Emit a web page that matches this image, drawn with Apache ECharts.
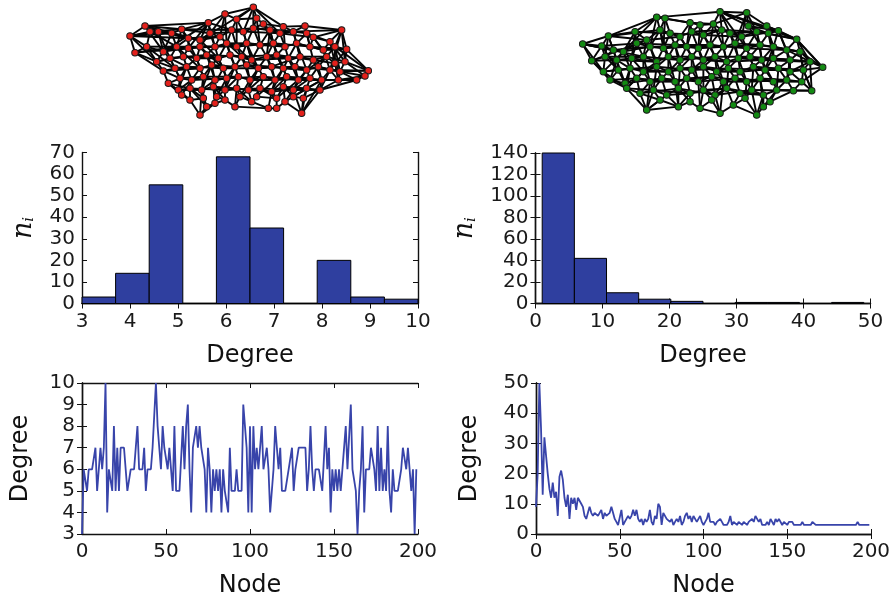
<!DOCTYPE html>
<html><head><meta charset="utf-8">
<script src="https://cdn.jsdelivr.net/npm/echarts@6/dist/echarts.min.js"></script>
<style>html,body{margin:0;padding:0;background:#fff}#c{width:894px;height:599px}</style>
</head><body><div id="c"></div><script>
// ---------------- data ----------------
const histLeftEdges = [3, 3.7, 4.4, 5.1, 5.8, 6.5, 7.2, 7.9, 8.6, 9.3, 10];
const histLeftCounts = [3, 14, 55, 0, 68, 35, 0, 20, 3, 2];
const histRightEdges = [1, 5.8, 10.6, 15.4, 20.2, 25, 29.8, 34.6, 39.4, 44.2, 49];
const histRightCounts = [140, 42, 10, 4, 2, 0, 1, 1, 0, 1];

const degreeLeft = [
  3,6,6,5,6,6,6,6,7,5, 5,7,6,7,10,4,6,6,5,8, 5,7,5,7,7,7,6,5,5,6, 6,6,6,8,6,6,6,7,5,6,
  6,6,7,7,10,8,7,6,8,7, 7,6,7,6,5,8,5,5,5,5, 8,6,8,9,6,4,7,7,8,7, 8,7,7,6,4,7,6,4,6,5,
  6,5,6,4,6,5,5,4,7,5, 5,5,6,5,5,5,9,8,7,4, 8,4,8,6,7,6,6,8,6,6, 7,6,4,4,6,8,7,6,7,5,
  5,5,5,6,6,7,5,6,6,7, 7,7,7,7,5,6,8,6,5,6, 6,6,6,5,5,8,6,7,4,6, 5,6,5,6,5,6,6,8,6,6,
  9,6,6,5,3,5,6,8,4,6, 6,6,7,7,6,5,8,5,7,5, 6,5,8,5,4,6,5,5,5,5, 6,7,7,6,7,7,5,6,3,6
];
const degreeRight = [
  9,20,50,35,13,32,32,20,15,12, 17,12,14,6,19,21,18,12,9,13, 5,12,10,12,8,12,12,10,9,6, 5,7,9,7,6,7,7,6,6,8,
  5,7,6,6,7,9,7,5,4,3, 3,8,3,4,5,6,5,6,8,6, 8,5,4,5,3,5,4,5,8,4, 3,6,5,10,9,3,7,6,5,5,
  4,5,3,4,5,4,6,3,4,6, 7,5,6,4,6,5,4,4,6,4, 3,4,5,7,4,4,4,3,4,4, 5,4,3,3,3,4,6,3,4,4,
  3,4,4,3,4,4,3,4,4,5, 4,6,5,4,5,3,3,3,4,3, 5,4,3,5,4,5,5,3,4,4, 3,4,4,4,3,3,3,3,3,4,
  3,3,3,3,3,4,4,3,3,3, 3,3,3,3,3,3,3,3,3,3, 3,3,3,3,3,3,3,3,3,3, 3,3,4,3,3,3,3,3,3,3
];

// network node rows (A..H), positions
const redRows = [
  [[135,78],[325,68],[375,42],[410,58],[460,22],[470,55],[490,72],[550,80],[615,78]],
  [[90,108],[150,95],[175,95],[215,100],[245,88],[265,115],[300,120],[330,100],[360,110],[395,90],[430,95],[460,85],[510,90],[540,100],[580,95],[620,100],[640,112],[690,125],[725,90]],
  [[105,158],[140,140],[190,155],[230,140],[265,145],[300,140],[345,140],[380,130],[410,140],[440,130],[480,135],[520,130],[555,140],[590,130],[630,140],[670,150],[705,140],[740,148]],
  [[170,185],[210,175],[250,170],[290,175],[320,165],[355,175],[390,165],[425,170],[455,180],[500,170],[530,165],[565,175],[600,170],[640,180],[680,170],[705,190],[735,185]],
  [[190,213],[225,205],[260,200],[300,205],[335,195],[370,205],[405,200],[440,195],[475,205],[515,200],[550,205],[585,200],[620,210],[655,200],[690,210],[720,215],[805,212]],
  [[240,235],[275,240],[310,230],[345,240],[380,235],[415,230],[450,240],[490,230],[525,240],[560,230],[595,240],[630,235],[665,240],[715,240],[770,240],[795,228]],
  [[205,250],[235,270],[270,265],[305,270],[340,260],[375,270],[410,265],[445,270],[480,265],[515,275],[550,260],[580,270],[620,265],[660,270]],
  [[245,285],[270,300],[300,345],[310,295],[320,320],[345,310],[350,290],[375,300],[405,320],[420,290],[455,305],[470,290],[505,325],[530,295],[530,325],[555,305],[580,290],[605,340],[610,295]]
];
const redEdges = `A1-A2 A2-A3 A3-A4 A4-A5 A5-A6 A6-A7 A7-A8 A2-A4 A3-A5 A0-A1
A0-B0 A0-B1 A0-B2 A0-B4 A1-B4 A1-B7 A1-B6 A2-B7 A2-B8 A3-B9 A3-B10 A4-B11 A4-B10 A5-B11 A6-B12 A6-B11 A7-B13 A7-B14 A8-B14 A8-B15 A8-B18 A1-B9
B0-B1 B1-B2 B2-B3 B3-B4 B4-B5 B5-B6 B6-B7 B7-B8 B8-B9 B9-B10 B10-B11 B11-B12 B12-B13 B13-B14 B14-B15 B15-B16 B16-B17 B17-B18 B0-B3 B3-B5 B6-B8 B9-B11 B12-B14 B15-B17 B2-B5 B4-B7 B10-B13 B14-B18
B0-C0 B0-C1 B1-C1 B2-C2 B3-C2 B3-C3 B4-C3 B5-C4 B5-C3 B6-C5 B7-C6 B8-C6 B8-C7 B9-C7 B9-C8 B10-C9 B11-C9 B11-C10 B12-C11 B13-C12 B13-C11 B14-C13 B15-C14 B16-C14 B16-C15 B17-C15 B17-C16 B18-C16 B18-C17 B7-C5 B12-C10 B15-C13
C0-C1 C1-C2 C2-C3 C3-C4 C4-C5 C5-C6 C6-C7 C7-C8 C8-C9 C9-C10 C10-C11 C11-C12 C12-C13 C13-C14 C14-C15 C15-C16 C16-C17 C1-C3 C4-C6 C7-C9 C10-C12 C13-C15 C2-C5 C8-C11 C14-C17
C0-D0 C1-D0 C2-D1 C2-D0 C3-D1 C3-D2 C4-D2 C4-D3 C5-D3 C5-D4 C6-D5 C7-D6 C7-D5 C8-D7 C9-D7 C9-D8 C10-D9 C11-D9 C11-D10 C12-D11 C13-D12 C13-D11 C14-D13 C15-D14 C16-D15 C16-D14 C17-D16 C17-D15 C6-D4 C10-D8 C12-D10
D0-D1 D1-D2 D2-D3 D3-D4 D4-D5 D5-D6 D6-D7 D7-D8 D8-D9 D9-D10 D10-D11 D11-D12 D12-D13 D13-D14 D14-D15 D15-D16 D0-D2 D3-D5 D6-D8 D9-D11 D12-D14 D13-D15
D0-E0 D0-E1 D1-E1 D1-E2 D2-E2 D3-E3 D3-E2 D4-E4 D5-E5 D5-E4 D6-E6 D7-E7 D7-E6 D8-E8 D9-E8 D9-E9 D10-E10 D11-E10 D11-E11 D12-E11 D13-E12 D14-E13 D14-E12 D15-E14 D15-E15 D16-E15 D16-E16 D8-E7 D12-E9
E0-E1 E1-E2 E2-E3 E3-E4 E4-E5 E5-E6 E6-E7 E7-E8 E8-E9 E9-E10 E10-E11 E11-E12 E12-E13 E13-E14 E14-E15 E15-E16 E1-E3 E4-E6 E7-E9 E10-E12 E13-E15
E0-F0 E1-F0 E2-F1 E2-F0 E3-F2 E4-F2 E4-F3 E5-F4 E6-F4 E6-F5 E7-F6 E8-F6 E8-F7 E9-F8 E10-F9 E10-F8 E11-F10 E12-F10 E12-F11 E13-F11 E13-F12 E14-F12 E15-F13 E15-F14 E16-F14 E16-F15 E14-F13 E3-F1
F0-F1 F1-F2 F2-F3 F3-F4 F4-F5 F5-F6 F6-F7 F7-F8 F8-F9 F9-F10 F10-F11 F11-F12 F12-F13 F13-F14 F14-F15 F0-F2 F3-F5 F6-F8 F9-F11 F12-F14
F0-G0 F0-G1 F1-G2 F1-G1 F2-G3 F3-G4 F3-G3 F4-G5 F5-G6 F5-G5 F6-G7 F7-G8 F7-G7 F8-G9 F9-G10 F9-G9 F10-G11 F11-G12 F11-G11 F12-G13 F13-G13 F14-G13 F12-G12
G0-G1 G1-G2 G2-G3 G3-G4 G4-G5 G5-G6 G6-G7 G7-G8 G8-G9 G9-G10 G10-G11 G11-G12 G12-G13 G1-G3 G4-G6 G7-G9 G10-G12
G0-H0 G1-H0 G1-H1 G2-H1 G2-H3 G3-H3 G3-H4 G4-H5 G4-H6 G5-H7 G5-H6 G6-H9 G6-H8 G7-H10 G7-H9 G8-H11 G8-H10 G9-H13 G9-H12 G10-H13 G10-H15 G11-H16 G11-H15 G12-H18 G12-H16 G13-H18 G13-H17
H0-H1 H1-H3 H1-H2 H2-H4 H3-H4 H4-H5 H5-H7 H6-H7 H7-H8 H8-H9 H9-H10 H10-H11 H10-H12 H11-H13 H12-H14 H13-H14 H14-H15 H15-H16 H16-H18 H17-H18 H15-H17 H2-H5 H8-H12
A0-C2 B0-D0 C0-E0 A4-A7 B4-B9 D4-F3 E16-F15 F15-E15 C17-E16 B18-D16 A1-C4 E5-G4 D10-F9 B12-D9 C8-E8 H17-F12 E0-G0 B1-C3
B1-B4 B5-B8 B7-B10 B11-B14 B13-B16 B16-B18 B0-B2
C0-C3 C3-C6 C5-C8 C9-C12 C11-C14 C15-C17 C6-C9
D1-D4 D2-D5 D4-D7 D7-D10 D8-D11 D10-D13 D14-D16
E0-E3 E2-E5 E5-E8 E8-E11 E9-E12 E11-E14 E14-E16
F1-F4 F2-F5 F4-F7 F7-F10 F8-F11 F10-F13 F13-F15
G0-G2 G2-G5 G5-G8 G8-G11 G9-G12 G11-G13
A1-C6 A2-C7 A3-C8 A5-C10 A6-C11 A7-C12 A8-C14 B2-D1 B4-D3 B6-D5 B8-D7 B10-D8 B12-D10 B14-D12 B16-D14 B17-D15
C1-E1 C3-E3 C5-E5 C7-E6 C9-E8 C11-E10 C13-E12 C15-E14 C16-E15 D1-F0 D3-F2 D5-F4 D7-F6 D9-F8 D11-F10 D13-F12 D15-F13
E2-G1 E4-G3 E6-G5 E8-G7 E10-G9 E12-G11 E14-G13 F2-H3 F4-H6 F6-H9 F8-H11 F10-H13 F12-H16 G0-H1 G2-H4 G4-H7 G6-H10 G8-H13 G10-H16 G12-H17
B0-B5 A0-B6 C0-C4 D16-B17 E16-C16 F15-D16 H0-F1 H2-G3 H17-G11 A4-B6 A4-B13 C2-A1 B18-E14`;

const greenRows = [
  [[290,52],[315,55],[390,68],[420,75],[460,72],[480,35],[560,38],[565,78],[620,78]],
  [[145,108],[225,95],[260,120],[300,90],[330,100],[360,110],[395,95],[430,105],[485,90],[510,100],[545,110],[590,95],[625,100],[655,92],[710,118]],
  [[68,132],[125,138],[160,150],[190,155],[230,130],[270,140],[310,145],[345,135],[380,140],[415,145],[450,135],[490,140],[525,130],[560,145],[600,135],[640,140],[680,150],[720,155]],
  [[95,182],[135,170],[170,180],[215,175],[250,170],[290,185],[325,170],[360,180],[395,170],[430,180],[465,170],[500,185],[535,175],[570,170],[605,180],[640,175],[690,180],[750,185],[788,202]],
  [[130,215],[175,210],[210,205],[250,215],[290,200],[325,215],[360,205],[395,210],[430,200],[470,215],[505,205],[540,215],[580,200],[615,210],[655,205],[690,215],[730,210]],
  [[150,240],[195,250],[230,235],[270,245],[305,235],[345,245],[380,235],[415,245],[455,230],[490,245],[525,235],[560,245],[600,235],[640,245],[680,240],[725,245]],
  [[200,265],[240,280],[280,270],[320,285],[355,265],[390,280],[430,270],[465,285],[500,265],[540,280],[575,270],[610,285],[650,270],[700,272],[755,272]],
  [[260,330],[300,300],[355,320],[390,305],[420,325],[455,300],[480,340],[520,315],[555,295],[590,345],[610,320],[630,305]]
];
const greenEdges = `A0-A1 A1-A2 A2-A3 A3-A4 A4-A5 A5-A6 A6-A7 A5-A7 A4-A6 A0-A2 A2-A4
A0-B1 A0-B3 A1-B3 A1-B4 A2-B5 A2-B6 A3-B6 A3-B7 A4-B7 A4-B8 A5-B8 A5-B9 A6-B10 A6-B11 A7-B11 A7-B12 A8-B12 A8-B13 A8-B14 A0-B0 A5-B14 A7-B13
B0-B1 B1-B2 B2-B3 B3-B4 B4-B5 B5-B6 B6-B7 B7-B8 B8-B9 B9-B10 B10-B11 B11-B12 B12-B13 B13-B14 B0-B2 B3-B5 B6-B8 B9-B11 B12-B14 B1-B4 B7-B10
B0-C0 B0-C1 B0-C2 B1-C3 B1-C4 B2-C4 B2-C5 B3-C5 B3-C6 B4-C6 B4-C7 B5-C7 B5-C8 B6-C8 B6-C9 B7-C9 B7-C10 B8-C10 B8-C11 B9-C11 B9-C12 B10-C12 B10-C13 B11-C13 B11-C14 B12-C14 B12-C15 B13-C15 B13-C16 B14-C16 B14-C17
C0-C1 C1-C2 C2-C3 C3-C4 C4-C5 C5-C6 C6-C7 C7-C8 C8-C9 C9-C10 C10-C11 C11-C12 C12-C13 C13-C14 C14-C15 C15-C16 C16-C17 C0-C2 C3-C5 C6-C8 C9-C11 C12-C14 C15-C17 C1-C4 C7-C10 C13-C16
C0-D0 C1-D0 C1-D1 C2-D1 C2-D2 C3-D2 C3-D3 C4-D3 C4-D4 C5-D4 C5-D5 C6-D5 C6-D6 C7-D6 C7-D7 C8-D7 C8-D8 C9-D8 C9-D9 C10-D9 C10-D10 C11-D10 C11-D11 C12-D11 C12-D12 C13-D12 C13-D13 C14-D13 C14-D14 C15-D14 C15-D15 C16-D15 C16-D16 C17-D16 C17-D17 C17-D18 C16-D17
D0-D1 D1-D2 D2-D3 D3-D4 D4-D5 D5-D6 D6-D7 D7-D8 D8-D9 D9-D10 D10-D11 D11-D12 D12-D13 D13-D14 D14-D15 D15-D16 D16-D17 D17-D18 D0-D2 D3-D5 D6-D8 D9-D11 D12-D14 D15-D17
D0-E0 D1-E0 D1-E1 D2-E1 D2-E2 D3-E2 D3-E3 D4-E3 D5-E4 D5-E3 D6-E5 D6-E4 D7-E6 D7-E5 D8-E7 D8-E6 D9-E8 D9-E7 D10-E9 D10-E8 D11-E10 D11-E9 D12-E11 D12-E10 D13-E12 D14-E13 D14-E12 D15-E14 D15-E13 D16-E15 D16-E14 D17-E16 D18-E16 D17-E15
E0-E1 E1-E2 E2-E3 E3-E4 E4-E5 E5-E6 E6-E7 E7-E8 E8-E9 E9-E10 E10-E11 E11-E12 E12-E13 E13-E14 E14-E15 E15-E16 E0-E2 E3-E5 E6-E8 E9-E11 E12-E14 E14-E16
E0-F0 E1-F0 E1-F1 E2-F2 E2-F1 E3-F3 E3-F2 E4-F4 E5-F5 E5-F4 E6-F6 E7-F7 E7-F6 E8-F8 E9-F9 E9-F8 E10-F10 E11-F11 E11-F10 E12-F12 E13-F13 E13-F12 E14-F14 E15-F14 E16-F15 E15-F15
F0-F1 F1-F2 F2-F3 F3-F4 F4-F5 F5-F6 F6-F7 F7-F8 F8-F9 F9-F10 F10-F11 F11-F12 F12-F13 F13-F14 F14-F15 F0-F2 F3-F5 F6-F8 F9-F11 F12-F14
F0-G0 F1-G0 F2-G1 F2-G0 F3-G2 F3-G1 F4-G3 F4-G2 F5-G4 F6-G4 F6-G5 F7-G6 F8-G6 F8-G7 F9-G8 F9-G7 F10-G8 F10-G9 F11-G10 F12-G11 F12-G10 F13-G12 F14-G13 F14-G12 F15-G14 F15-G13
G0-G1 G1-G2 G2-G3 G3-G4 G4-G5 G5-G6 G6-G7 G7-G8 G8-G9 G9-G10 G10-G11 G11-G12 G12-G13 G13-G14 G0-G2 G3-G5 G6-G8 G9-G11 G12-G14
G1-H0 G2-H0 G2-H1 G3-H1 G3-H2 G4-H2 G5-H3 G5-H2 G6-H4 G6-H5 G7-H5 G7-H6 G8-H7 G9-H7 G9-H8 G10-H8 G10-H9 G11-H10 G11-H11 G12-H11 G12-H10 G1-H1
H0-H1 H1-H2 H2-H3 H3-H4 H4-H5 H5-H6 H6-H7 H7-H8 H8-H9 H9-H10 H10-H11 H0-H2 H4-H6 H7-H9
A5-C13 B0-D1 C0-E0 A0-C3 D18-F15 B14-D17 C17-E16 A4-C11 E0-G0 D0-F0 G14-E16 B13-D16
B0-B3 B2-B5 B4-B7 B8-B11 B10-B13 B11-B14
C0-C3 C2-C5 C4-C7 C5-C8 C8-C11 C10-C13 C11-C14 C14-C17
D1-D4 D2-D5 D4-D7 D7-D10 D8-D11 D10-D13 D11-D14 D13-D16 D14-D17
E1-E4 E2-E5 E4-E7 E5-E8 E7-E10 E8-E11 E10-E13 E11-E14 E13-E16
F1-F4 F2-F5 F4-F7 F5-F8 F7-F10 F8-F11 F10-F13 F11-F14 F13-F15
G1-G4 G2-G5 G4-G7 G5-G8 G7-G10 G8-G11 G10-G13
A0-C5 A1-C6 A2-C8 A3-C9 A4-C10 A6-C12 A7-C14 A8-C15 B0-D2 B2-D4 B3-D6 B5-D8 B7-D10 B9-D12 B11-D14 B12-D15 B14-D18
C1-E1 C3-E2 C5-E4 C7-E6 C9-E8 C11-E10 C13-E12 C15-E13 C16-E15 D2-F1 D4-F3 D6-F5 D8-F7 D10-F9 D12-F11 D14-F13 D16-F14
E2-G0 E4-G2 E6-G4 E8-G6 E10-G8 E12-G10 E14-G12 E16-G14 F3-H0 F5-H2 F7-H4 F9-H6 F11-H8 F12-H10 G0-H0 G4-H3 G8-H5 G11-H9 G13-H11
A0-A5 B1-D3 C0-D4 D0-B2 E0-C3 F0-D2 G0-E3 H0-G3 D18-B14 E16-C17 G14-D17 A5-B13 A6-A8`;

// ---------------- styling / build ----------------
const FONT = 'DejaVu Sans';
const BAR = '#2f3f9f';
const LINE = '#3844aa';

function buildGraph(rows, edgeStr) {
  const letters = 'ABCDEFGH';
  const nodes = [];
  rows.forEach((row, r) => row.forEach((p, i) => nodes.push({ name: letters[r] + i, x: p[0], y: p[1] })));
  const links = edgeStr.trim().split(/\s+/).map(e => { const [a, b] = e.split('-'); return { source: a, target: b }; });
  return { nodes, links };
}
const redG = buildGraph(redRows, redEdges);
const greenG = buildGraph(greenRows, greenEdges);

const grids = [
  { left: 82, top: 152.5, width: 336, height: 151 },
  { left: 535.5, top: 153, width: 335, height: 150.5 },
  { left: 82, top: 383, width: 336, height: 151 },
  { left: 536, top: 383, width: 335, height: 151.5 }
];
const axisSpec = [
  { x: [3, 10, 1], y: [0, 70, 10], xName: 'Degree', yName: '{n|n}{i|i}', yGap: 45, xGap: 40 },
  { x: [0, 50, 10], y: [0, 140, 20], xName: 'Degree', yName: '{n|n}{i|i}', yGap: 57, xGap: 40 },
  { x: [0, 200, 50], y: [3, 10, 1], xName: 'Node', yName: 'Degree', yGap: 49, xGap: 40 },
  { x: [0, 200, 50], y: [0, 50, 10], xName: 'Node', yName: 'Degree', yGap: 54, xGap: 40 }
];
const lineStyleAxis = { color: '#111', width: 1.4 };
const tickStyle = { inside: true, length: 5, lineStyle: { color: '#111', width: 1 } };
const labelStyle = { fontSize: 20, color: '#1a1a1a', fontFamily: FONT, margin: 8 };
const nameRich = {
  n: { fontFamily: 'DejaVu Serif', fontStyle: 'italic', fontSize: 27, color: '#111' },
  i: { fontFamily: 'DejaVu Serif', fontStyle: 'italic', fontSize: 15, color: '#111', verticalAlign: 'bottom', padding: [10, 0, 0, 0] }
};

const xAxis = [], yAxis = [];
axisSpec.forEach((s, g) => {
  xAxis.push({ gridIndex: g, type: 'value', position: 'bottom', min: s.x[0], max: s.x[1], interval: s.x[2],
    axisLine: { show: true, lineStyle: lineStyleAxis }, axisTick: tickStyle, axisLabel: labelStyle, splitLine: { show: false },
    name: s.xName, nameLocation: 'middle', nameGap: s.xGap, nameTextStyle: { fontSize: 24, fontFamily: FONT, color: '#111' } });
  xAxis.push({ gridIndex: g, type: 'value', position: 'top', min: s.x[0], max: s.x[1], interval: s.x[2],
    axisLine: { show: true, lineStyle: lineStyleAxis }, axisTick: tickStyle, axisLabel: { show: false }, splitLine: { show: false } });
  const yName = s.yName.startsWith('{')
    ? { name: s.yName, nameGap: s.yGap, nameTextStyle: { rich: nameRich } }
    : { name: s.yName, nameGap: s.yGap, nameTextStyle: { fontSize: 24, fontFamily: FONT, color: '#111' } };
  yAxis.push(Object.assign({ gridIndex: g, type: 'value', position: 'left', min: s.y[0], max: s.y[1], interval: s.y[2],
    axisLine: { show: true, lineStyle: lineStyleAxis }, axisTick: tickStyle, axisLabel: Object.assign({}, labelStyle, { margin: 7 }), splitLine: { show: false },
    nameLocation: 'middle', nameRotate: 90 }, yName));
  yAxis.push({ gridIndex: g, type: 'value', position: 'right', min: s.y[0], max: s.y[1], interval: s.y[2],
    axisLine: { show: true, lineStyle: lineStyleAxis }, axisTick: tickStyle, axisLabel: { show: false }, splitLine: { show: false } });
});

function histSeries(edges, counts, g) {
  return {
    type: 'custom', xAxisIndex: 2 * g, yAxisIndex: 2 * g, silent: true, z: 1,
    data: counts.map((c, i) => [edges[i], edges[i + 1], c]),
    encode: { x: [0, 1], y: 2 },
    renderItem: (params, api) => {
      const p0 = api.coord([api.value(0), api.value(2)]);
      const p1 = api.coord([api.value(1), 0]);
      return { type: 'rect', shape: { x: p0[0], y: p0[1], width: p1[0] - p0[0], height: p1[1] - p0[1] },
        style: { fill: BAR, stroke: '#000', lineWidth: 1 } };
    }
  };
}
function lineSeries(values, g) {
  return { type: 'line', xAxisIndex: 2 * g, yAxisIndex: 2 * g, data: values.map((v, i) => [i, v]),
    showSymbol: false, symbol: 'none', silent: true, lineStyle: { color: LINE, width: 1.8 }, clip: true };
}
function graphSeries(G, box, color) {
  return Object.assign({ type: 'graph', layout: 'none', roam: false, silent: true,
    data: G.nodes, links: G.links, symbolSize: 6.5,
    itemStyle: { color: color, borderColor: '#1a1a1a', borderWidth: 1 },
    lineStyle: { color: '#050505', width: 1.9, opacity: 1, curveness: 0 },
    label: { show: false }, emphasis: { disabled: true } }, box);
}

const chart = echarts.init(document.getElementById('c'), null, { renderer: 'canvas' });
chart.setOption({
  animation: false,
  backgroundColor: '#fff',
  grid: grids,
  xAxis, yAxis,
  series: [
    histSeries(histLeftEdges, histLeftCounts, 0),
    histSeries(histRightEdges, histRightCounts, 1),
    lineSeries(degreeLeft, 2),
    lineSeries(degreeRight, 3),
    graphSeries(redG, { left: 130, top: 7.3, width: 238.3, height: 107.7 }, '#e3211c'),
    graphSeries(greenG, { left: 582.7, top: 11.7, width: 240, height: 103.3 }, '#138a13')
  ]
});
</script></body></html>
